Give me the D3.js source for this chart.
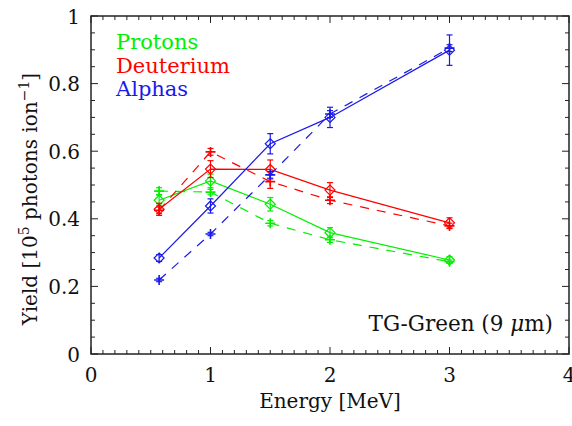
<!DOCTYPE html>
<html>
<head>
<meta charset="utf-8">
<script src="https://cdn.jsdelivr.net/npm/d3@7"></script>
<style>
  html, body { margin: 0; padding: 0; background: #fff; }
  svg { display: block; }
</style>
</head>
<body>
<script>
// Scintillation yield of TG-Green (9 um) versus ion energy
const energy = [0.57, 1.0, 1.5, 2.0, 3.0];

// solid lines: diamonds with error bars
const protonsSolid      = [0.455, 0.512, 0.443, 0.359, 0.278];
const protonsSolidErr   = [0.015, 0.020, 0.020, 0.015, 0.010];
const deuteriumSolid    = [0.428, 0.547, 0.546, 0.485, 0.388];
const deuteriumSolidErr = [0.018, 0.025, 0.028, 0.022, 0.015];
const alphasSolid       = [0.284, 0.438, 0.622, 0.700, 0.899];
const alphasSolidErr    = [0.010, 0.021, 0.030, 0.030, 0.045];

// dashed lines: plus markers
const protonsDashed      = [0.482, 0.479, 0.387, 0.338, 0.273];
const protonsDashedErr   = [0.010, 0.008, 0.008, 0.008, 0.005];
const deuteriumDashed    = [0.425, 0.598, 0.510, 0.455, 0.379];
const deuteriumDashedErr = [0.010, 0.010, 0.020, 0.010, 0.008];
const alphasDashed       = [0.219, 0.355, 0.530, 0.710, 0.905];
const alphasDashedErr    = [0.005, 0.005, 0.010, 0.010, 0.010];

const seriesNames  = ["Protons", "Deuterium", "Alphas"];
const seriesColors = ["#00f000", "#ff0000", "#1a1ae8"];

const xTicks = [0, 1, 2, 3, 4];
const yTicks = [0, 0.2, 0.4, 0.6, 0.8, 1];
const yTickLabels = ["0", "0.2", "0.4", "0.6", "0.8", "1"];

const W = 572, H = 426;
const frame = { left: 91, right: 569, top: 16, bottom: 354 };
const FONT = "'DejaVu Serif', 'Liberation Serif', serif";

const x = d3.scaleLinear().domain([0, 4]).range([frame.left, frame.right]);
const y = d3.scaleLinear().domain([0, 1]).range([frame.bottom, frame.top]);

const svg = d3.select("body").append("svg")
  .attr("width", W).attr("height", H)
  .attr("font-family", FONT);

const axisColor = "#222";
const fontSize = 20;

// frame and inward ticks on all four sides
const axes = svg.append("g");
const xMinor = d3.range(0, 4.0001, 0.1);
const yMinor = d3.range(0, 1.0001, 0.05);
const isMajorX = v => Math.abs(v - Math.round(v)) < 1e-6;
const isMajorY = v => Math.abs(v * 5 - Math.round(v * 5)) < 1e-6;

xMinor.forEach(v => {
  const len = isMajorX(v) ? 7 : 4;
  axes.append("line").attr("x1", x(v)).attr("x2", x(v))
    .attr("y1", frame.bottom).attr("y2", frame.bottom - len)
    .attr("stroke", axisColor).attr("stroke-width", 1);
  axes.append("line").attr("x1", x(v)).attr("x2", x(v))
    .attr("y1", frame.top).attr("y2", frame.top + len)
    .attr("stroke", axisColor).attr("stroke-width", 1);
});
yMinor.forEach(v => {
  const len = isMajorY(v) ? 7 : 4;
  axes.append("line").attr("y1", y(v)).attr("y2", y(v))
    .attr("x1", frame.left).attr("x2", frame.left + len)
    .attr("stroke", axisColor).attr("stroke-width", 1);
  axes.append("line").attr("y1", y(v)).attr("y2", y(v))
    .attr("x1", frame.right).attr("x2", frame.right - len)
    .attr("stroke", axisColor).attr("stroke-width", 1);
});
axes.append("rect")
  .attr("x", frame.left).attr("y", frame.top)
  .attr("width", frame.right - frame.left).attr("height", frame.bottom - frame.top)
  .attr("fill", "none").attr("stroke", axisColor).attr("stroke-width", 1.5);

// tick labels
axes.selectAll("text.xt").data(xTicks).join("text")
  .attr("class", "xt")
  .attr("x", d => x(d)).attr("y", 382)
  .attr("text-anchor", "middle")
  .attr("font-size", fontSize).attr("fill", "#111")
  .text(d => d);
axes.selectAll("text.yt").data(yTicks).join("text")
  .attr("class", "yt")
  .attr("x", 80).attr("y", d => y(d) + 7.5)
  .attr("text-anchor", "end")
  .attr("font-size", fontSize).attr("fill", "#111")
  .text((d, i) => yTickLabels[i]);

// axis titles
svg.append("text")
  .attr("x", (frame.left + frame.right) / 2).attr("y", 408)
  .attr("text-anchor", "middle").attr("font-size", fontSize).attr("fill", "#111")
  .text("Energy [MeV]");

const yl = svg.append("text")
  .attr("transform", "translate(37,199) rotate(-90)")
  .attr("text-anchor", "middle").attr("font-size", fontSize).attr("fill", "#111");
yl.append("tspan").text("Yield [10");
yl.append("tspan").attr("font-size", 14).attr("dy", -8).text("5");
yl.append("tspan").attr("dy", 8).text(" photons ion");
yl.append("tspan").attr("font-size", 14).attr("dy", -8).text("\u22121");
yl.append("tspan").attr("dy", 8).text("]");

// annotation
const ann = svg.append("text")
  .attr("x", 553).attr("y", 331)
  .attr("text-anchor", "end").attr("font-size", 21.5).attr("fill", "#111");
ann.append("tspan").text("TG-Green (9 ");
ann.append("tspan").attr("font-style", "italic").text("\u03bc");
ann.append("tspan").text("m)");

// data
const solid  = [protonsSolid, deuteriumSolid, alphasSolid];
const solidE = [protonsSolidErr, deuteriumSolidErr, alphasSolidErr];
const dashed = [protonsDashed, deuteriumDashed, alphasDashed];
const dashE  = [protonsDashedErr, deuteriumDashedErr, alphasDashedErr];

const line = d3.line().x(d => x(d[0])).y(d => y(d[1]));
const plot = svg.append("g");

function errorBars(g, pts, errs, color) {
  pts.forEach((p, i) => {
    const x0 = x(p[0]), yt = y(p[1] + errs[i]), yb = y(p[1] - errs[i]);
    g.append("line").attr("x1", x0).attr("x2", x0).attr("y1", yt).attr("y2", yb)
      .attr("stroke", color).attr("stroke-width", 1.2);
    [yt, yb].forEach(yy => g.append("line")
      .attr("x1", x0 - 3).attr("x2", x0 + 3).attr("y1", yy).attr("y2", yy)
      .attr("stroke", color).attr("stroke-width", 1.2));
  });
}

[0, 1, 2].forEach(k => {
  const color = seriesColors[k];
  const ptsD = energy.map((e, i) => [e, dashed[k][i]]);
  const ptsS = energy.map((e, i) => [e, solid[k][i]]);
  const g = plot.append("g");

  g.append("path").attr("d", line(ptsD)).attr("fill", "none")
    .attr("stroke", color).attr("stroke-width", 1.2)
    .attr("stroke-dasharray", "9,8");
  errorBars(g, ptsD, dashE[k], color);
  ptsD.forEach(p => {
    const cx = x(p[0]), cy = y(p[1]);
    g.append("path").attr("d", `M${cx - 5},${cy}H${cx + 5}M${cx},${cy - 5}V${cy + 5}`)
      .attr("stroke", color).attr("stroke-width", 1.6).attr("fill", "none");
  });

  g.append("path").attr("d", line(ptsS)).attr("fill", "none")
    .attr("stroke", color).attr("stroke-width", 1.2);
  errorBars(g, ptsS, solidE[k], color);
  ptsS.forEach(p => {
    const cx = x(p[0]), cy = y(p[1]);
    g.append("path").attr("d", `M${cx},${cy - 5}L${cx + 5},${cy}L${cx},${cy + 5}L${cx - 5},${cy}Z`)
      .attr("stroke", color).attr("stroke-width", 1.2).attr("fill", "none");
  });
});

// legend
svg.selectAll("text.leg").data(seriesNames).join("text")
  .attr("class", "leg")
  .attr("x", 116).attr("y", (d, i) => 49 + i * 23.5)
  .attr("font-size", 21).attr("fill", (d, i) => seriesColors[i])
  .text(d => d);
</script>
</body>
</html>
